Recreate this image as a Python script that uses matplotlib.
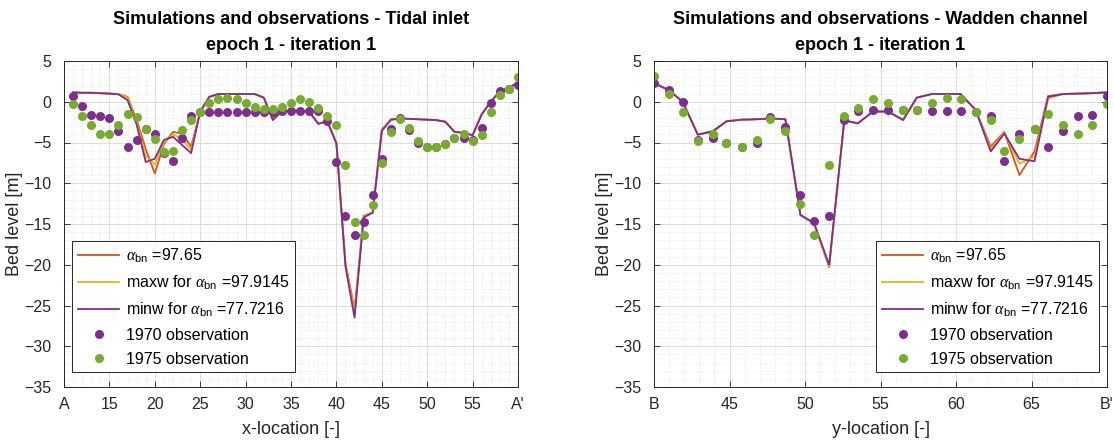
import matplotlib
matplotlib.use("Agg")
import matplotlib.pyplot as plt
from matplotlib.ticker import MultipleLocator

plt.rcParams['font.family'] = ['Liberation Sans', 'DejaVu Sans']
plt.rcParams['mathtext.fontset'] = 'custom'
plt.rcParams['mathtext.rm'] = 'Liberation Sans'
plt.rcParams['mathtext.it'] = 'Liberation Serif:italic'

# --- Tidal inlet transect (x-location 11..60) ---
x_loc = list(range(11, 61))

obs1970_ti = [0.7, -0.5, -1.6, -1.7, -2.0, -3.6, -5.5, -4.7, -3.4, -4.0,
              -6.3, -7.3, -4.5, -1.8, -1.3, -1.2, -1.2, -1.2, -1.2, -1.2,
              -1.2, -1.2, -1.2, -1.1, -1.1, -1.1, -1.1, -1.15, -2.4, -7.4,
              -14.0, -16.4, -14.7, -11.5, -7.0, -3.4, -2.0, -3.5, -5.1, -5.5,
              -5.6, -5.2, -4.5, -4.4, -4.7, -3.2, -0.1, 1.3, 1.55, 2.1]

obs1975_ti = [-0.3, -1.7, -2.9, -3.9, -3.9, -2.8, -1.5, -1.9, -3.3, -4.6,
              -6.2, -6.0, -3.5, -2.2, -1.3, -0.1, 0.3, 0.45, 0.3, -0.1,
              -0.65, -0.9, -0.9, -0.65, -0.1, 0.3, 0.0, -0.8, -1.7, -2.9,
              -7.8, -14.7, -16.4, -12.7, -7.5, -3.7, -2.1, -3.2, -4.8, -5.5,
              -5.6, -5.2, -4.4, -4.0, -4.8, -4.1, -1.3, 0.8, 1.6, 3.0]

ref_ti = [1.15, 1.1, 1.1, 1.05, 1.0, 0.95, 0.6, -2.2, -5.8, -8.8,
          -5.2, -3.7, -3.9, -5.5, -1.2, 0.6, 0.95, 0.95, 0.95, 0.95,
          0.95, 0.5, -2.1, -1.15, -1.1, -1.1, -1.2, -2.7, -2.4, -5.1,
          -19.8, -25.5, -14.0, -13.6, -3.4, -2.2, -2.05, -2.1, -2.15, -2.2,
          -2.25, -2.45, -3.7, -3.8, -4.1, -1.55, 0.0, 1.3, 1.7, 2.4]

maxw_ti = [1.15, 1.1, 1.1, 1.05, 1.0, 0.95, 0.5, -2.5, -6.7, -7.7,
           -5.0, -4.0, -4.6, -5.9, -1.2, 0.6, 0.95, 0.95, 0.95, 0.95,
           0.95, 0.5, -2.2, -1.15, -1.1, -1.1, -1.2, -2.7, -2.4, -5.1,
           -20.0, -25.8, -14.1, -13.6, -3.5, -2.2, -2.05, -2.1, -2.15, -2.2,
           -2.25, -2.45, -3.7, -3.8, -4.1, -1.55, 0.0, 1.3, 1.7, 2.4]

minw_ti = [1.15, 1.1, 1.1, 1.05, 1.0, 0.9, 0.2, -2.8, -7.4, -7.0,
           -4.7, -4.3, -5.3, -6.3, -1.2, 0.6, 0.95, 0.95, 0.95, 0.95,
           0.95, 0.5, -2.25, -1.15, -1.1, -1.1, -1.2, -2.7, -2.4, -5.1,
           -20.2, -26.5, -14.2, -13.6, -3.6, -2.2, -2.05, -2.1, -2.15, -2.2,
           -2.25, -2.45, -3.7, -3.8, -4.1, -1.55, 0.0, 1.3, 1.7, 2.4]

# --- Wadden channel transect (y-location 40..70) ---
y_loc = [40.0, 41.0, 41.9, 42.9, 43.9, 44.8, 45.8, 46.8, 47.7, 48.7, 49.7,
         50.6, 51.6, 52.6, 53.5, 54.5, 55.5, 56.5, 57.4, 58.4, 59.4, 60.3,
         61.3, 62.3, 63.2, 64.2, 65.2, 66.1, 67.1, 68.1, 69.0, 70.0]

obs1970_wc = [2.3, 1.4, 0.0, -4.7, -4.4, -5.1, -5.6, -5.1, -1.9, -3.1, -11.5,
              -14.6, -14.0, -2.3, -1.1, -1.05, -1.05, -1.05, -1.05, -1.1, -1.1, -1.1,
              -1.3, -1.8, -7.3, -4.0, -3.4, -5.5, -3.6, -1.75, -1.6, 0.7]

obs1975_wc = [3.1, 0.9, -1.25, -4.8, -4.0, -5.1, -5.6, -4.7, -2.1, -3.55, -12.6,
              -16.3, -7.8, -1.7, -0.8, 0.3, -0.1, -1.0, -1.0, -0.1, 0.45, 0.3,
              -1.3, -2.2, -6.0, -4.6, -3.3, -1.5, -2.8, -3.9, -2.9, -0.3]

ref_wc = [2.3, 1.4, 0.0, -4.0, -3.7, -2.4, -2.2, -2.15, -2.05, -2.15, -13.9,
          -14.9, -20.3, -2.3, -2.65, -1.2, -1.2, -2.2, 0.5, 0.95, 0.95, 0.95,
          -1.0, -5.5, -3.7, -9.0, -6.1, 0.7, 0.95, 1.0, 1.05, 1.15]

maxw_wc = [2.3, 1.4, 0.0, -4.0, -3.6, -2.4, -2.2, -2.15, -2.05, -2.15, -13.9,
           -14.9, -20.2, -2.3, -2.65, -1.2, -1.2, -2.25, 0.5, 0.95, 0.95, 0.95,
           -1.0, -5.8, -3.8, -7.6, -6.7, 0.4, 0.95, 1.0, 1.05, 1.15]

minw_wc = [2.3, 1.4, 0.0, -4.05, -3.6, -2.4, -2.2, -2.15, -2.05, -2.15, -13.9,
           -14.9, -20.0, -2.3, -2.65, -1.2, -1.2, -2.25, 0.5, 0.95, 0.95, 0.95,
           -1.0, -6.1, -3.9, -7.0, -7.3, 0.6, 0.95, 1.0, 1.05, 1.15]

labels = [r'$\alpha_{\rm bn}$ =97.65',
          r'maxw for $\alpha_{\rm bn}$ =97.9145',
          r'minw for $\alpha_{\rm bn}$ =77.7216',
          '1970 observation',
          '1975 observation']

# colori stile MATLAB
c_ref = '#D95319'
c_max = '#EDB120'
c_min = '#7E2F8E'
c_70 = '#7E2F8E'
c_75 = '#77AC30'
dark = '#262626'


def draw_panel(ax, xs, ref, maxw, minw, o70, o75, xlim, tick_labels, xlabel, title, legend_loc, anchor):
    ax.plot(xs, ref, color=c_ref, lw=1.3, label=labels[0])
    ax.plot(xs, maxw, color=c_max, lw=1.3, label=labels[1])
    ax.plot(xs, minw, color=c_min, lw=1.3, label=labels[2])
    ax.plot(xs, o70, 'o', color=c_70, ms=6.5, mec='none', label=labels[3])
    ax.plot(xs, o75, 'o', color=c_75, ms=6.5, mec='none', label=labels[4])

    ax.set_xlim(*xlim)
    ax.set_ylim(-35, 5)
    ax.set_xticks(list(range(xlim[0], xlim[1] + 1, 5)))
    ax.set_xticklabels(tick_labels)
    ax.set_yticks(list(range(-35, 6, 5)))
    ax.xaxis.set_minor_locator(MultipleLocator(1))
    ax.yaxis.set_minor_locator(MultipleLocator(1))

    ax.grid(which='major', color='#dcdcdc', lw=0.7)
    ax.grid(which='minor', color='#e4e4e4', lw=0.6, linestyle=':')
    ax.set_axisbelow(True)

    ax.tick_params(which='major', direction='in', top=True, right=True, length=4,
                   width=0.6, color=dark, labelcolor=dark, labelsize=11.5)
    ax.tick_params(axis='x', pad=7)
    ax.tick_params(axis='y', pad=9)
    ax.tick_params(which='minor', length=0)
    for s in ax.spines.values():
        s.set_color(dark)
        s.set_linewidth(0.7)

    ax.set_xlabel(xlabel, fontsize=13, color=dark, labelpad=7)
    ax.set_ylabel('Bed level [m]', fontsize=13, color=dark, labelpad=1)
    ax.set_title(title, fontsize=13, fontweight='bold', color='black', pad=8, linespacing=1.65)

    leg = ax.legend(loc=legend_loc, bbox_to_anchor=anchor, borderaxespad=0, fontsize=11.5,
                    fancybox=False, framealpha=1, edgecolor=dark, numpoints=1,
                    handlelength=2.6, handletextpad=0.4, labelspacing=0.55, borderpad=0.35)
    leg.get_frame().set_linewidth(0.7)


fig = plt.figure(figsize=(11.14, 4.45), dpi=100)
ax1 = fig.add_axes([64 / 1114, 1 - 387 / 445, 454 / 1114, 326 / 445])
ax2 = fig.add_axes([654 / 1114, 1 - 387 / 445, 453 / 1114, 326 / 445])

draw_panel(ax1, x_loc, ref_ti, maxw_ti, minw_ti, obs1970_ti, obs1975_ti, (10, 60),
           ['A', '15', '20', '25', '30', '35', '40', '45', '50', '55', "A'"],
           'x-location [-]',
           'Simulations and observations - Tidal inlet\nepoch 1 - iteration 1',
           'lower left', (0.018, 0.045))

draw_panel(ax2, y_loc, ref_wc, maxw_wc, minw_wc, obs1970_wc, obs1975_wc, (40, 70),
           ['B', '45', '50', '55', '60', '65', "B'"],
           'y-location [-]',
           'Simulations and observations - Wadden channel\nepoch 1 - iteration 1',
           'lower right', (0.982, 0.045))

fig.savefig('out.png', dpi=100)
